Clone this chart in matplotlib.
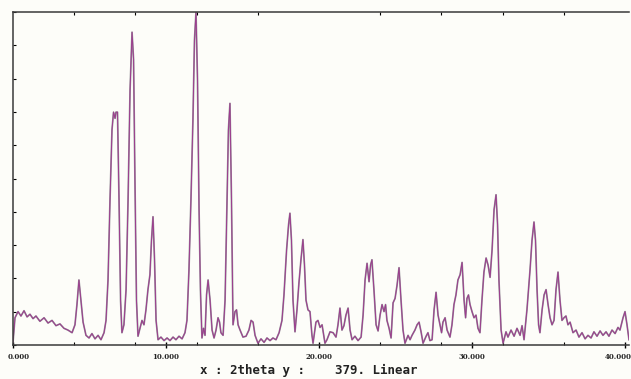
import numpy as np
import matplotlib
matplotlib.use("Agg")
import matplotlib.pyplot as plt
from matplotlib.transforms import ScaledTranslation

# 2theta (deg) and counts
two_theta = [
    0.00, 0.13, 0.33, 0.52, 0.72, 0.92, 1.11, 1.31, 1.50, 1.76, 2.03, 2.29, 2.55, 2.81, 3.07, 3.33,
    3.59, 3.86, 4.05, 4.18, 4.31, 4.44, 4.58, 4.77, 4.97, 5.16, 5.36, 5.56, 5.75, 5.95, 6.08, 6.21,
    6.34, 6.47, 6.57, 6.67, 6.73, 6.83, 6.93, 7.03, 7.12, 7.25, 7.39, 7.52, 7.65, 7.78, 7.88, 7.97,
    8.07, 8.17, 8.30, 8.43, 8.56, 8.69, 8.82, 8.95, 9.05, 9.15, 9.25, 9.35, 9.48, 9.67, 9.87, 10.07,
    10.26, 10.46, 10.65, 10.85, 11.05, 11.24, 11.37, 11.50, 11.63, 11.76, 11.86, 11.96, 12.06, 12.16,
    12.25, 12.35, 12.45, 12.55, 12.65, 12.75, 12.88, 13.01, 13.14, 13.27, 13.40, 13.50, 13.59, 13.73,
    13.86, 13.99, 14.08, 14.18, 14.28, 14.38, 14.51, 14.61, 14.71, 14.84, 15.03, 15.23, 15.42, 15.56,
    15.69, 15.82, 16.01, 16.21, 16.41, 16.60, 16.80, 16.99, 17.19, 17.39, 17.58, 17.71, 17.88, 18.01,
    18.10, 18.20, 18.30, 18.43, 18.56, 18.69, 18.82, 18.95, 19.05, 19.15, 19.28, 19.41, 19.54, 19.61,
    19.80, 19.93, 20.07, 20.20, 20.39, 20.52, 20.72, 20.92, 21.11, 21.24, 21.37, 21.50, 21.63, 21.76,
    21.90, 22.03, 22.16, 22.35, 22.55, 22.75, 22.88, 23.01, 23.14, 23.27, 23.37, 23.46, 23.59, 23.73,
    23.86, 23.99, 24.12, 24.25, 24.35, 24.44, 24.58, 24.71, 24.84, 24.97, 25.10, 25.23, 25.36, 25.49,
    25.62, 25.82, 25.95, 26.08, 26.27, 26.41, 26.54, 26.67, 26.80, 27.00, 27.12, 27.25, 27.39, 27.52,
    27.65, 27.78, 27.91, 28.01, 28.10, 28.24, 28.37, 28.56, 28.69, 28.82, 28.95, 29.08, 29.22, 29.35,
    29.48, 29.58, 29.67, 29.77, 29.87, 30.00, 30.13, 30.26, 30.39, 30.52, 30.65, 30.78, 30.92, 31.05,
    31.18, 31.31, 31.44, 31.57, 31.67, 31.76, 31.90, 32.03, 32.22, 32.35, 32.55, 32.75, 32.94, 33.14,
    33.27, 33.40, 33.59, 33.79, 33.92, 34.05, 34.15, 34.25, 34.35, 34.44, 34.58, 34.71, 34.84, 34.97,
    35.10, 35.23, 35.36, 35.49, 35.62, 35.75, 35.88, 36.01, 36.14, 36.27, 36.41, 36.60, 36.80, 36.99,
    37.19, 37.39, 37.58, 37.78, 37.97, 38.17, 38.37, 38.56, 38.76, 38.95, 39.15, 39.35, 39.54, 39.67,
    39.87, 40.00, 40.13, 40.26,
]
counts = [
    3, 31, 38, 33, 39, 32, 35, 30, 33, 27, 31, 25, 28, 22, 24, 19,
    17, 14, 23, 46, 74, 51, 26, 11, 8, 13, 7, 11, 6, 14, 28, 74,
    165, 245, 265, 258, 265, 265, 165, 51, 14, 23, 63, 165, 290, 356, 325, 188,
    51, 10, 19, 28, 23, 40, 63, 80, 119, 146, 97, 28, 6, 9, 5, 8,
    5, 9, 6, 10, 7, 14, 28, 85, 165, 256, 347, 379, 301, 154,
    63, 8, 19, 11, 57, 74, 51, 17, 8, 17, 31, 26, 14, 11,
    51, 165, 245, 275, 165, 23, 38, 40, 23, 17, 9, 10, 17, 28,
    26, 11, 2, 7, 3, 8, 5, 8, 6, 14, 28, 57, 108, 137,
    150, 119, 51, 15, 40, 71, 97, 120, 91, 51, 40, 38, 11, 2,
    26, 28, 20, 23, 2, 6, 15, 14, 9, 23, 42, 17, 22, 34,
    42, 17, 6, 10, 5, 9, 34, 74, 93, 72, 91, 97, 63, 23,
    16, 34, 46, 38, 46, 28, 19, 8, 48, 53, 68, 88, 51, 17,
    2, 11, 6, 11, 17, 23, 26, 15, 2, 10, 14, 5, 6, 40,
    60, 34, 23, 14, 26, 31, 17, 9, 23, 46, 57, 74, 80, 94,
    51, 31, 53, 57, 46, 38, 31, 34, 19, 14, 51, 83, 99, 91,
    77, 108, 154, 171, 137, 74, 17, 2, 15, 9, 17, 10, 19, 11,
    22, 6, 40, 85, 119, 140, 119, 63, 23, 14, 40, 57, 63, 46,
    31, 23, 28, 63, 83, 51, 28, 31, 33, 23, 26, 14, 17, 9,
    14, 7, 11, 8, 15, 10, 16, 11, 15, 10, 17, 13, 20, 17,
    31, 38, 23, 6,
]
x_ticks = [0, 10, 20, 30, 40]
x_tick_labels = ["0.000", "10.000", "20.000", "30.000", "40.000"]
y_max = 379

fig = plt.figure(figsize=(6.31, 3.79), dpi=100)
fig.patch.set_facecolor("#fdfdf9")
ax = fig.add_axes([13 / 631, 34 / 379, 616 / 631, 333 / 379])
ax.set_facecolor("#fdfdf9")

# grey edge under a magenta trace, like the printed scan
ax.plot(two_theta, counts, color="#75707a", lw=1.25, alpha=0.75)
ax.plot(two_theta, counts, color="#9c3c8e", lw=0.7)

ax.set_xlim(0, 40.26)
ax.set_ylim(0, y_max)

ax.set_xticks(x_ticks)
ax.set_xticklabels(x_tick_labels, fontsize=5, family="DejaVu Serif", fontweight="bold",
                   color="#222222")
ax.set_xticks(np.arange(0, 41, 4), minor=True)
ax.tick_params(axis="x", which="major", direction="inout", length=5, width=1, pad=3, top=False)
ax.tick_params(axis="x", which="minor", direction="in", length=2.5, width=0.8, top=True)
ax.set_yticks(np.linspace(0, y_max, 11))
ax.tick_params(axis="y", direction="in", length=2.5, width=0.8, labelleft=False)

# nudge the end labels inside the page like the printout
labels = ax.get_xticklabels()
labels[0].set_transform(labels[0].get_transform() + ScaledTranslation(0.06, 0, fig.dpi_scale_trans))
labels[-1].set_transform(labels[-1].get_transform() + ScaledTranslation(-0.07, 0, fig.dpi_scale_trans))

for side in ["left", "top", "bottom"]:
    ax.spines[side].set_color("#3a3a3a")
    ax.spines[side].set_linewidth(1.1)
ax.spines["right"].set_visible(False)

fig.text(200 / 631, 9 / 379, "x : 2theta y :    379. Linear", fontsize=9,
         family="DejaVu Sans Mono", fontweight="bold", color="#222222", va="center")

fig.savefig("out.png", dpi=100, facecolor=fig.get_facecolor())
